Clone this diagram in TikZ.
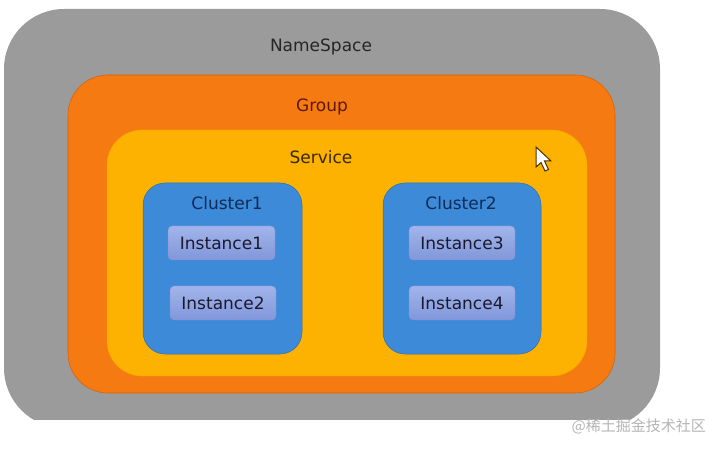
\documentclass[tikz,border=0pt]{standalone}
\usepackage{fontspec}
\setmainfont{DejaVu Sans}
\newfontfamily\cjkfont{Noto Sans CJK SC}
\definecolor{nsgray}{HTML}{9B9B9B}
\definecolor{grporange}{HTML}{F67A12}
\definecolor{grpedge}{HTML}{D2650E}
\definecolor{svcyellow}{HTML}{FDB202}
\definecolor{svcedge}{HTML}{F2A400}
\definecolor{clblue}{HTML}{3D8AD8}
\definecolor{cledge}{HTML}{2F6FB0}
\definecolor{insttop}{HTML}{A2B4EA}
\definecolor{instbot}{HTML}{8197DA}
\definecolor{instedge}{HTML}{7A90D0}
\definecolor{nstext}{HTML}{262626}
\definecolor{grptext}{HTML}{5A1A00}
\definecolor{svctext}{HTML}{3A2600}
\definecolor{cltext}{HTML}{0E2C55}
\definecolor{insttext}{HTML}{1A1A2E}
\definecolor{wmtext}{HTML}{B5B5B5}
\definecolor{cursoredge}{HTML}{4A3000}
\tikzset{
  box/.style={rounded corners=#1, inner sep=0pt, outer sep=0pt},
  lbl/.style={inner sep=0pt, font=\fontsize{17}{20}\selectfont},
  instbox/.style={box=4pt, minimum width=106pt, minimum height=34pt,
    top color=insttop, bottom color=instbot, draw=instedge, line width=0.4pt,
    text=insttext, font=\fontsize{17}{20}\selectfont}
}
\begin{document}
\begin{tikzpicture}[x=1pt,y=-1pt]
\useasboundingbox (0,0) rectangle (718,449);
\fill[white] (0,0) rectangle (718,449);
\begin{scope}
  \clip (0,0) rectangle (718,419);
  \node[box=60pt, fill=nsgray, minimum width=656pt, minimum height=419pt] (ns) at (332,218.5) {};
\end{scope}
\node[box=40pt, fill=grporange, draw=grpedge, line width=0.6pt, minimum width=547pt, minimum height=318pt] (grp) at (341.5,234) {};
\node[box=35pt, fill=svcyellow, draw=svcedge, line width=0.4pt, minimum width=480pt, minimum height=246pt] (svc) at (347,253) {};
\node[box=22pt, fill=clblue, draw=cledge, line width=0.5pt, minimum width=159pt, minimum height=171pt] (cl1) at (222.5,268.5) {};
\node[box=22pt, fill=clblue, draw=cledge, line width=0.5pt, minimum width=158pt, minimum height=171pt] (cl2) at (462,268.5) {};
\node[lbl, text=nstext] (nslbl) at (321,47) {NameSpace};
\node[lbl, text=grptext] (grplbl) at (322,107) {Group};
\node[lbl, text=svctext] (svclbl) at (321,157) {Service};
\node[lbl, text=cltext] (cl1lbl) at (227,203) {Cluster1};
\node[lbl, text=cltext] (cl2lbl) at (461,203) {Cluster2};
\node[instbox, minimum width=107pt] (i1) at (221.5,243) {Instance1};
\node[instbox] (i2) at (223,303) {Instance2};
\node[instbox] (i3) at (462,243) {Instance3};
\node[instbox] (i4) at (462,303) {Instance4};
% mouse cursor
\draw[fill=white, draw=cursoredge, line width=1pt, line join=miter]
  (536,147) -- (536,167) -- (541,162.5) -- (545,171) -- (548.5,169.5) -- (544.5,161) -- (551,161) -- cycle;
% watermark
\node[inner sep=0pt, anchor=east, text=wmtext, font=\cjkfont\fontsize{15}{18}\selectfont] (wm) at (706,426) {@稀土掘金技术社区};
\end{tikzpicture}
\end{document}
